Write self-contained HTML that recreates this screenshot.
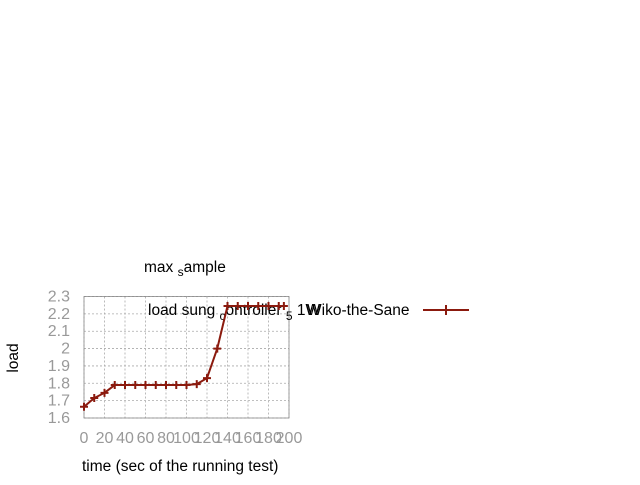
<!DOCTYPE html>
<html><head><meta charset="utf-8"><style>
body{margin:0;background:#fff;font-family:"Liberation Sans",sans-serif}
svg text{font-family:"Liberation Sans",sans-serif}
</style></head><body>
<svg width="640" height="480" xmlns="http://www.w3.org/2000/svg">
<g id="grid"></g>
<rect x="84" y="296.5" width="205" height="121.5" fill="none" stroke="#888" stroke-width="0.8"/>
<g id="ticks"></g>
<text x="144" y="272" font-size="15.5">max <tspan font-size="12" dy="4">s</tspan><tspan dy="-4">ample</tspan></text>
<text x="18" y="358" font-size="15.5" transform="rotate(-90 18 358)" text-anchor="middle">load</text>
<text x="82" y="471" font-size="15.5">time (sec of the running test)</text>
<g>
<text x="148" y="315" font-size="15.5">load sung <tspan font-size="12" dy="5">c</tspan><tspan dy="-5">ontroller </tspan><tspan font-size="12" dy="5">5</tspan><tspan dy="-5"> 1W</tspan></text>
<text x="307" y="315" font-size="15.5">Wiko-the-Sane</text>
<line x1="423" y1="310" x2="469" y2="310" stroke="#8b1a0e" stroke-width="2"/>
<line x1="446" y1="305" x2="446" y2="315" stroke="#8b1a0e" stroke-width="2"/>
</g>
<g id="series"></g>
</svg>
<script>
const xs=[0,10,20,30,40,50,60,70,80,90,100,110,120,130,140,150,160,170,180,190,195];
const ys=[1.665,1.715,1.745,1.79,1.79,1.79,1.79,1.79,1.79,1.79,1.79,1.795,1.83,2.0,2.245,2.245,2.245,2.245,2.245,2.245,2.245];
const xTicks=[0,20,40,60,80,100,120,140,160,180,200];
const yTicks=[1.6,1.7,1.8,1.9,2,2.1,2.2,2.3];
const X=v=>84+v/200*205, Y=v=>418-(v-1.6)/0.7*121.5;
const NS="http://www.w3.org/2000/svg";
function mk(t,a,p){const e=document.createElementNS(NS,t);for(const k in a)e.setAttribute(k,a[k]);p.appendChild(e);return e;}
const g=document.getElementById('grid'),tk=document.getElementById('ticks'),s=document.getElementById('series');
xTicks.forEach(v=>{
 const l=mk('line',{x1:X(v),x2:X(v),y1:296.5,y2:418,stroke:'#aaa','stroke-dasharray':'2,2','stroke-width':0.8},g);
 
 
 const t=mk('text',{x:X(v),y:443,'font-size':16,fill:'#999','text-anchor':'middle'},tk);t.textContent=v;
 
 
});
yTicks.forEach(v=>{
 const l=mk('line',{x1:84,x2:289,y1:Y(v),y2:Y(v),stroke:'#aaa','stroke-dasharray':'2,2','stroke-width':0.8},g);
 
 
 const t=mk('text',{x:70,y:Y(v)+5,'font-size':16,fill:'#999','text-anchor':'end'},tk);t.textContent=v;
 
 
});
const pl=mk('polyline',{points:xs.map((x,i)=>X(x)+','+Y(ys[i])).join(' '),fill:'none',stroke:'#8b1a0e','stroke-width':2},s);


xs.forEach((x,i)=>{
 const m=mk('path',{d:`M${X(x)-4},${Y(ys[i])}h8M${X(x)},${Y(ys[i])-4}v8`,stroke:'#8b1a0e','stroke-width':2},s);
 
 
});
</script>
</body></html>
